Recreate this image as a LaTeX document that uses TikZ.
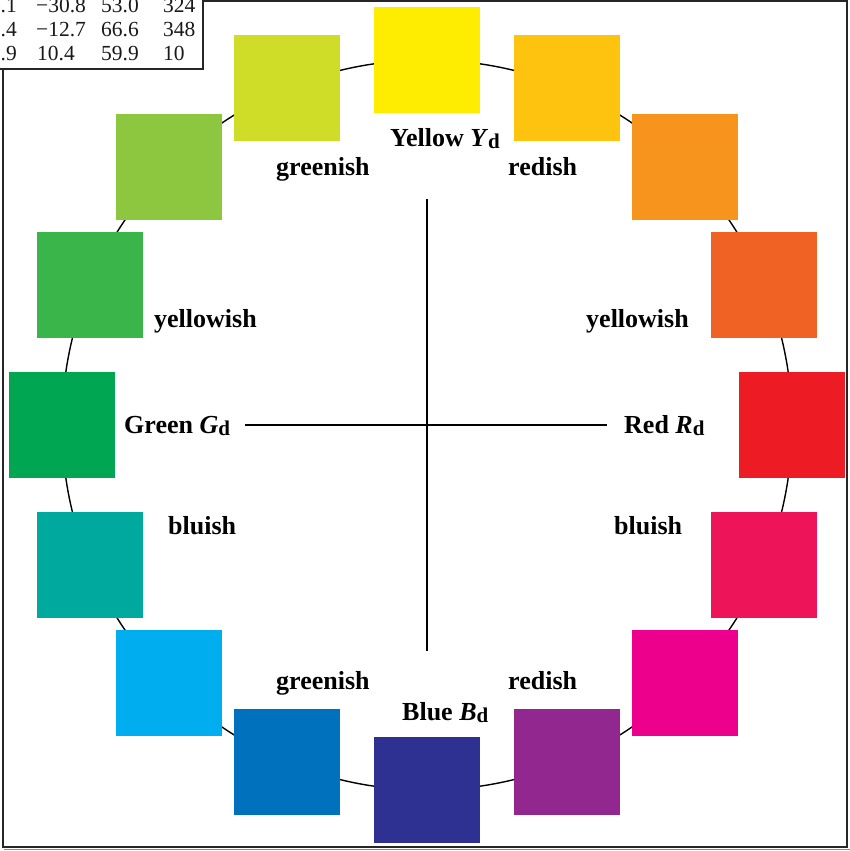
\documentclass[tikz,border=0pt]{standalone}
\usepackage{fontspec}
\setmainfont{Liberation Serif}
\definecolor{cA}{HTML}{FFED00}
\definecolor{cB}{HTML}{FDC30F}
\definecolor{cC}{HTML}{F7941D}
\definecolor{cD}{HTML}{F06124}
\definecolor{cE}{HTML}{ED1C24}
\definecolor{cF}{HTML}{ED1459}
\definecolor{cG}{HTML}{EC008C}
\definecolor{cH}{HTML}{92278F}
\definecolor{cI}{HTML}{2E3192}
\definecolor{cJ}{HTML}{0071BC}
\definecolor{cK}{HTML}{00AEEF}
\definecolor{cL}{HTML}{00A99D}
\definecolor{cM}{HTML}{00A651}
\definecolor{cN}{HTML}{39B54A}
\definecolor{cO}{HTML}{8DC63F}
\definecolor{cP}{HTML}{D0DD28}
\newcommand{\dsub}{\raisebox{-2pt}{\fontsize{21}{21}\selectfont d}}
\begin{document}
\begin{tikzpicture}[x=1pt,y=-1pt,
  sq/.style={draw=none,minimum size=106pt,inner sep=0pt,outer sep=0pt},
  lbl/.style={font=\fontsize{26}{28}\selectfont\bfseries,inner sep=0pt,anchor=base west},
  tab/.style={font=\fontsize{21.5}{23}\selectfont,inner sep=0pt,text=black!90},
  axis/.style={line width=1.3pt,black}]
\useasboundingbox (0,0) rectangle (850,851);
% outer frame
\draw[line width=1.5pt,black!45] (4,849.5) -- (850,849.5);
\draw[line width=2.4pt,black!85] (3,1.2) rectangle (847,847);
% ring
\coordinate (ctr) at (427,425);
\draw[line width=1.4pt] (ctr) circle[radius=365];
% squares
\foreach \a/\c/\n in {90/cA/0,67.5/cB/1,45/cC/2,22.5/cD/3,0/cE/4,-22.5/cF/5,-45/cG/6,-67.5/cH/7,-90/cI/8,-112.5/cJ/9,-135/cK/10,-157.5/cL/11,180/cM/12,157.5/cN/13,135/cO/14,112.5/cP/15}
  \node[sq,fill=\c] (s\n) at ({427+365*cos(\a)},{425-365*sin(\a)}) {};
% labels
\node[lbl] (ly) at (390,146) {Yellow \textit{Y}\dsub};
\node[lbl] (lb) at (402,720) {Blue \textit{B}\dsub};
\node[lbl] (lg) at (124,433) {Green \textit{G}\dsub};
\node[lbl] (lr) at (624,433) {Red \textit{R}\dsub};
\node[lbl] (g1) at (276,175) {greenish};
\node[lbl] (r1) at (508,175) {redish};
\node[lbl] (y1) at (154,327) {yellowish};
\node[lbl] (y2) at (586,327) {yellowish};
\node[lbl] (b1) at (168,534) {bluish};
\node[lbl] (b2) at (614,534) {bluish};
\node[lbl] (g2) at (276,689) {greenish};
\node[lbl] (r2) at (508,689) {redish};
% axes
\coordinate (vt) at (427,199);
\coordinate (vb) at (427,651);
\coordinate (hl) at (245,425);
\coordinate (hr) at (607,425);
\draw[axis] (vt) -- (vb);
\draw[axis] (hl) -- (hr);
% table (cut)
\draw[fill=white,draw=black!85,line width=1.8pt] (-10,-10) rectangle (203,69);
\node[tab,anchor=base east] (t11) at (17,13) {.1};
\node[tab,anchor=base west] (t12) at (36,13) {−30.8};
\node[tab,anchor=base west] (t13) at (101,13) {53.0};
\node[tab,anchor=base west] (t14) at (163,13) {324};
\node[tab,anchor=base east] (t21) at (17,37) {.4};
\node[tab,anchor=base west] (t22) at (36,37) {−12.7};
\node[tab,anchor=base west] (t23) at (101,37) {66.6};
\node[tab,anchor=base west] (t24) at (163,37) {348};
\node[tab,anchor=base east] (t31) at (17,61) {.9};
\node[tab,anchor=base west] (t32) at (37,61) {10.4};
\node[tab,anchor=base west] (t33) at (101,61) {59.9};
\node[tab,anchor=base west] (t34) at (163,61) {10};
\end{tikzpicture}
\end{document}
